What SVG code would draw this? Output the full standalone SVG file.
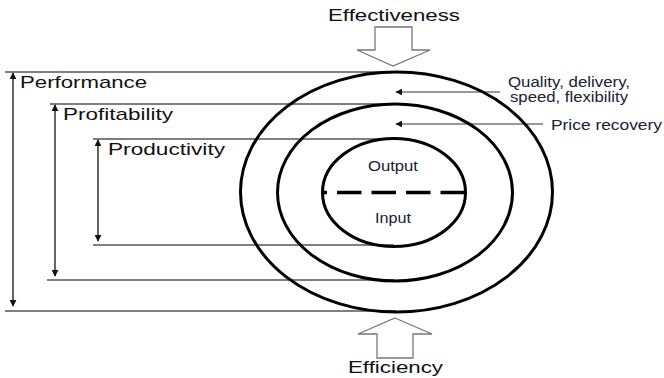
<svg xmlns="http://www.w3.org/2000/svg" width="664" height="378" viewBox="0 0 664 378">
<style>
.big{font-family:"Liberation Sans",Arial,sans-serif;font-size:17px;fill:#111}
.sm{font-family:"Liberation Sans",Arial,sans-serif;font-size:14px;fill:#1a2035}
.ring{fill:none;stroke:#000;stroke-width:3}
.hl{stroke:#555;stroke-width:1.3}
.va{stroke:#111;stroke-width:1.3;marker-start:url(#ah);marker-end:url(#ah)}
.la{stroke:#333;stroke-width:1.2;marker-end:url(#ah)}
.hollow{fill:#fff;stroke:#777;stroke-width:1.3}
</style>
<defs>
<marker id="ah" viewBox="0 0 10 10" refX="9" refY="5" markerWidth="7" markerHeight="7" markerUnits="userSpaceOnUse" orient="auto-start-reverse">
<path d="M0,0 L10,5 L0,10 z" fill="#111"/>
</marker>
</defs>
<rect width="664" height="378" fill="#fff"/>
<g id="connectors">
<line class="hl" x1="5" y1="72" x2="396" y2="72" stroke="#999"/>
<line class="hl" x1="50" y1="104" x2="395" y2="104"/>
<line class="hl" x1="93" y1="139" x2="394" y2="139"/>
<line class="hl" x1="93" y1="245" x2="394" y2="245"/>
<line class="hl" x1="47" y1="280" x2="395" y2="280"/>
<line class="hl" x1="5" y1="311" x2="396" y2="311"/>
<line class="va" x1="13" y1="306" x2="13" y2="73"/>
<line class="va" x1="55" y1="276" x2="55" y2="105"/>
<line class="va" x1="98" y1="241" x2="98" y2="140"/>
<line class="la" x1="500" y1="92" x2="396" y2="92"/>
<line class="la" x1="543" y1="124" x2="396" y2="124"/>
</g>
<g id="outer-ring"><ellipse class="ring" cx="396.5" cy="192" rx="156" ry="120"/></g>
<g id="middle-ring"><ellipse class="ring" cx="395" cy="192.5" rx="117.5" ry="88.5"/></g>
<g id="inner-ring">
<ellipse class="ring" cx="394" cy="192.5" rx="71.5" ry="54"/>
<line x1="323" y1="192.5" x2="466" y2="192.5" stroke="#000" stroke-width="3.5" stroke-dasharray="24.5 10" stroke-dashoffset="20.5"/>
<text class="sm" x="368" y="171" textLength="50" lengthAdjust="spacingAndGlyphs">Output</text>
<text class="sm" x="375" y="223" textLength="36" lengthAdjust="spacingAndGlyphs">Input</text>
</g>
<g id="effectiveness">
<text class="big" x="328" y="21" textLength="132" lengthAdjust="spacingAndGlyphs">Effectiveness</text>
<path class="hollow" d="M375,27 H412 V50 H430 L393,66 L357,50 H375 Z"/>
</g>
<g id="efficiency">
<path class="hollow" d="M395,318 L432,334 H413 V358 H377 V334 H358 Z"/>
<text class="big" x="348" y="373" textLength="95" lengthAdjust="spacingAndGlyphs">Efficiency</text>
</g>
<g id="labels">
<text class="big" x="20" y="88" textLength="127" lengthAdjust="spacingAndGlyphs">Performance</text>
<text class="big" x="63" y="120" textLength="110" lengthAdjust="spacingAndGlyphs">Profitability</text>
<text class="big" x="108" y="155" textLength="117" lengthAdjust="spacingAndGlyphs">Productivity</text>
<text class="sm" x="508" y="87" textLength="122" lengthAdjust="spacingAndGlyphs">Quality, delivery,</text>
<text class="sm" x="510" y="102" textLength="118" lengthAdjust="spacingAndGlyphs">speed, flexibility</text>
<text class="sm" x="551" y="130" textLength="111" lengthAdjust="spacingAndGlyphs">Price recovery</text>
</g>
</svg>
